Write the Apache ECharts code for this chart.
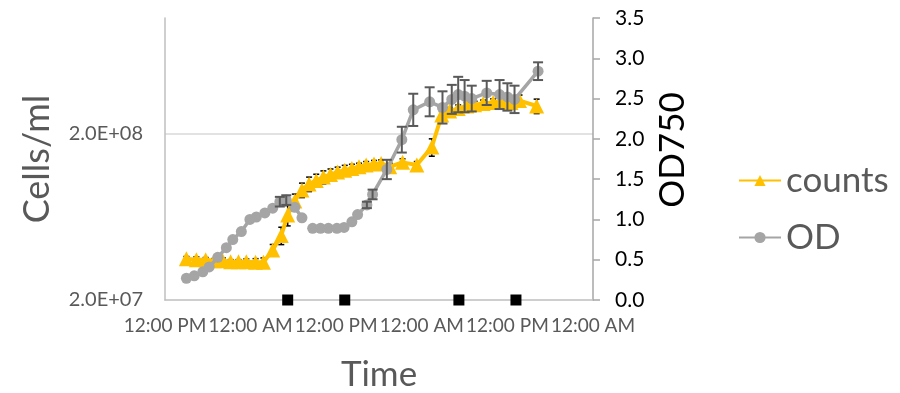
<!DOCTYPE html>
<html>
<head>
<meta charset="utf-8">
<script src="https://cdn.jsdelivr.net/npm/echarts@6/dist/echarts.min.js"></script>
<style>
  html, body { margin: 0; padding: 0; background: #fff; }
  #chart { width: 900px; height: 393px; }
</style>
</head>
<body>
<div id="chart"></div>
<script>
// time axis: hours from the first 12:00 PM
var xTicks = [0, 12, 24, 36, 48, 60];
var xLabels = ['12:00 PM', '12:00 AM', '12:00 PM', '12:00 AM', '12:00 PM', '12:00 AM'];
var leftTicks = [2e7, 2e8];
var leftLabels = ['2.0E+07', '2.0E+08'];

// cell counts (cells/ml)
var countHours = [3.0, 4.4, 5.7, 6.9, 8.1, 9.2, 10.3, 11.4, 12.7, 13.8, 15.1, 16.3, 17.2, 18.2, 19.2,
  20.2, 21.2, 22.2, 23.2, 24.2, 25.2, 26.2, 27.2, 28.2, 29.3, 30.3, 31.5, 33.3, 35.3, 37.4,
  38.8, 39.9, 41.1, 42.3, 43.4, 44.6, 46.0, 47.3, 48.5, 49.7, 52.1];
var countValues = [3.55e7, 3.5e7, 3.5e7, 3.45e7, 3.45e7, 3.4e7, 3.4e7, 3.4e7, 3.38e7, 3.38e7, 4.0e7, 4.9e7, 6.5e7, 7.9e7, 9.2e7,
  1.0e8, 1.05e8, 1.1e8, 1.14e8, 1.18e8, 1.21e8, 1.24e8, 1.27e8, 1.3e8, 1.32e8, 1.33e8, 1.27e8, 1.35e8, 1.3e8, 1.67e8,
  2.6e8, 2.75e8, 2.85e8, 2.95e8, 3.0e8, 3.05e8, 3.1e8, 3.15e8, 3.1e8, 3.18e8, 2.95e8];
var countErrors = [0.03, 0.04, 0.03, 0.03, 0.04, 0.03, 0.03, 0.04, 0.05, 0.06, 0.08, 0.12, 0.14, 0.1, 0.1,
  0.1, 0.09, 0.09, 0.08, 0.07, 0.07, 0.06, 0.05, 0.05, 0.05, 0.05, 0.05, 0.05, 0.05, 0.12,
  0.05, 0.05, 0.05, 0.05, 0.05, 0.05, 0.05, 0.07, 0.07, 0.08, 0.1];

// OD750 (null = gap)
var odHours = [3.0, 4.1, 5.3, 6.2, 7.4, 8.6, 9.5, 10.7, 11.9, 12.8, 14.0, 15.1, 16.1, 17.0, 18.2, 19.2,
  20.0, 20.7, 21.8, 22.9, 24.1, 25.1, 26.2, 27.0, 28.3, 29.1, 31.1, 33.2, 34.8, 37.1, 38.9,
  40.2, 41.1, 42.0, 43.0, 45.1, 46.9, 48.0, 49.0, 52.3];
var odValues = [0.27, 0.30, 0.35, 0.41, 0.53, 0.65, 0.75, 0.85, 1.0, 1.03, 1.08, 1.14, 1.22, 1.24, 1.15, 1.02,
  null, 0.89, 0.89, 0.89, 0.89, 0.90, 0.97, 1.06, 1.18, 1.31, 1.62, 1.99, 2.36, 2.46, 2.39,
  2.49, 2.55, 2.53, 2.50, 2.57, 2.55, 2.52, 2.49, 2.84];
var odErrors = [0, 0, 0, 0, 0, 0, 0, 0, 0, 0, 0, 0, 0.06, 0.06, 0, 0,
  null, 0, 0, 0, 0, 0, 0, 0, 0.04, 0.06, 0.12, 0.16, 0.2, 0.18, 0.2,
  0.18, 0.22, 0.2, 0.16, 0.15, 0.18, 0.17, 0.17, 0.11];

// dark-period markers on the time axis
var darkHours = [17.2, 25.2, 41.2, 49.2];

var FONT = 'Lato';

var countData = [], countErr = [];
for (var i = 0; i < countHours.length; i++) {
  countData.push([countHours[i], countValues[i]]);
  countErr.push([countHours[i], countValues[i] * (1 - countErrors[i]), countValues[i] * (1 + countErrors[i])]);
}
var odData = [], odErr = [];
for (var j = 0; j < odHours.length; j++) {
  if (odValues[j] == null) { odData.push([odHours[j], '-']); continue; }
  odData.push([odHours[j], odValues[j]]);
  if (odErrors[j] > 0) odErr.push([odHours[j], odValues[j] - odErrors[j], odValues[j] + odErrors[j]]);
}
var darkData = darkHours.map(function (h) { return [h, 0]; });

function errorBars(color, capHalf, width) {
  return function (params, api) {
    var x = api.value(0);
    var top = api.coord([x, api.value(2)]);
    var bot = api.coord([x, api.value(1)]);
    var st = { stroke: color, lineWidth: width };
    return {
      type: 'group',
      children: [
        { type: 'line', shape: { x1: top[0], y1: top[1], x2: bot[0], y2: bot[1] }, style: st },
        { type: 'line', shape: { x1: top[0] - capHalf, y1: top[1], x2: top[0] + capHalf, y2: top[1] }, style: st },
        { type: 'line', shape: { x1: bot[0] - capHalf, y1: bot[1], x2: bot[0] + capHalf, y2: bot[1] }, style: st }
      ]
    };
  };
}

var myChart = echarts.init(document.getElementById('chart'));
var option = {
  animation: false,
  textStyle: { fontFamily: FONT },
  grid: { left: 165, right: 307, top: 18, bottom: 93, outerBoundsMode: 'none', containLabel: false },
  legend: {
    data: ['counts', 'OD'],
    orient: 'vertical',
    left: 733,
    top: 158,
    itemWidth: 42,
    itemHeight: 14,
    itemGap: 22,
    textStyle: { fontSize: 35, color: '#595959', fontFamily: FONT }
  },
  xAxis: {
    type: 'value',
    min: 0,
    max: 60,
    interval: 12,
    name: 'Time',
    nameLocation: 'middle',
    nameGap: 57,
    nameTextStyle: { fontSize: 35, color: '#595959', fontFamily: FONT },
    axisLine: { show: true, lineStyle: { color: '#BFBFBF', width: 1.5 } },
    axisTick: { show: false },
    splitLine: { show: false },
    axisLabel: {
      customValues: xTicks,
      color: '#595959',
      fontSize: 19,
      margin: 16,
      fontFamily: FONT,
      showMinLabel: true,
      showMaxLabel: true,
      hideOverlap: false,
      formatter: function (v) { return xLabels[xTicks.indexOf(Math.round(v))]; }
    }
  },
  yAxis: [
    {
      type: 'log',
      logBase: 10,
      min: 2e7,
      max: 1e9,
      position: 'left',
      name: 'Cells/ml',
      nameLocation: 'middle',
      nameGap: 110,
      nameTextStyle: { fontSize: 36, color: '#595959', fontFamily: FONT },
      axisLine: { show: true, lineStyle: { color: '#BFBFBF', width: 1.5 } },
      axisTick: { show: false },
      splitLine: { show: false },
      axisLabel: {
        customValues: leftTicks,
        color: '#595959',
        fontSize: 20,
        margin: 22,
        fontFamily: FONT,
        formatter: function (v) {
          for (var k = 0; k < leftTicks.length; k++) {
            if (Math.abs(v - leftTicks[k]) / leftTicks[k] < 1e-6) return leftLabels[k];
          }
          return '';
        }
      }
    },
    {
      type: 'value',
      min: 0,
      max: 3.5,
      interval: 0.5,
      position: 'right',
      name: 'OD750',
      nameLocation: 'middle',
      nameGap: 62,
      nameTextStyle: { fontSize: 35, color: '#000', fontFamily: FONT, padding: [0, 0, 0, 18] },
      axisLine: { show: true, lineStyle: { color: '#A6A6A6', width: 1.5 } },
      axisTick: { show: true, inside: false, length: 7, lineStyle: { color: '#A6A6A6', width: 1.5 } },
      splitLine: { show: false },
      axisLabel: {
        color: '#000',
        fontSize: 21,
        margin: 22,
        fontFamily: FONT,
        showMinLabel: true,
        showMaxLabel: true,
        formatter: function (v) { return v.toFixed(1); }
      }
    }
  ],
  series: [
    {
      name: 'countsErr',
      type: 'custom',
      yAxisIndex: 0,
      renderItem: errorBars('#000', 3, 1.5),
      encode: { x: 0, y: [1, 2] },
      data: countErr,
      z: 1,
      silent: true
    },
    {
      name: 'counts',
      type: 'line',
      yAxisIndex: 0,
      data: countData,
      symbol: 'triangle',
      symbolSize: 15,
      lineStyle: { color: '#FFC000', width: 4 },
      itemStyle: { color: '#FFC000' },
      z: 2,
      markLine: {
        silent: true,
        symbol: 'none',
        label: { show: false },
        lineStyle: { color: '#D9D9D9', width: 1.5, type: 'solid' },
        data: [{ yAxis: leftTicks[1] }],
        z: 0
      }
    },
    {
      name: 'OD',
      type: 'line',
      yAxisIndex: 1,
      data: odData,
      connectNulls: false,
      symbol: 'circle',
      symbolSize: 11,
      lineStyle: { color: '#A5A5A5', width: 3.5 },
      itemStyle: { color: '#A5A5A5' },
      z: 3
    },
    {
      name: 'ODErr',
      type: 'custom',
      yAxisIndex: 1,
      renderItem: errorBars('#595959', 5, 2),
      encode: { x: 0, y: [1, 2] },
      data: odErr,
      z: 4,
      silent: true
    },
    {
      name: 'dark',
      type: 'scatter',
      yAxisIndex: 1,
      data: darkData,
      symbol: 'rect',
      symbolSize: 11,
      itemStyle: { color: '#000', opacity: 1 },
      z: 5
    }
  ]
};
myChart.setOption(option);
window.onresize = myChart.resize;
</script>
</body>
</html>
